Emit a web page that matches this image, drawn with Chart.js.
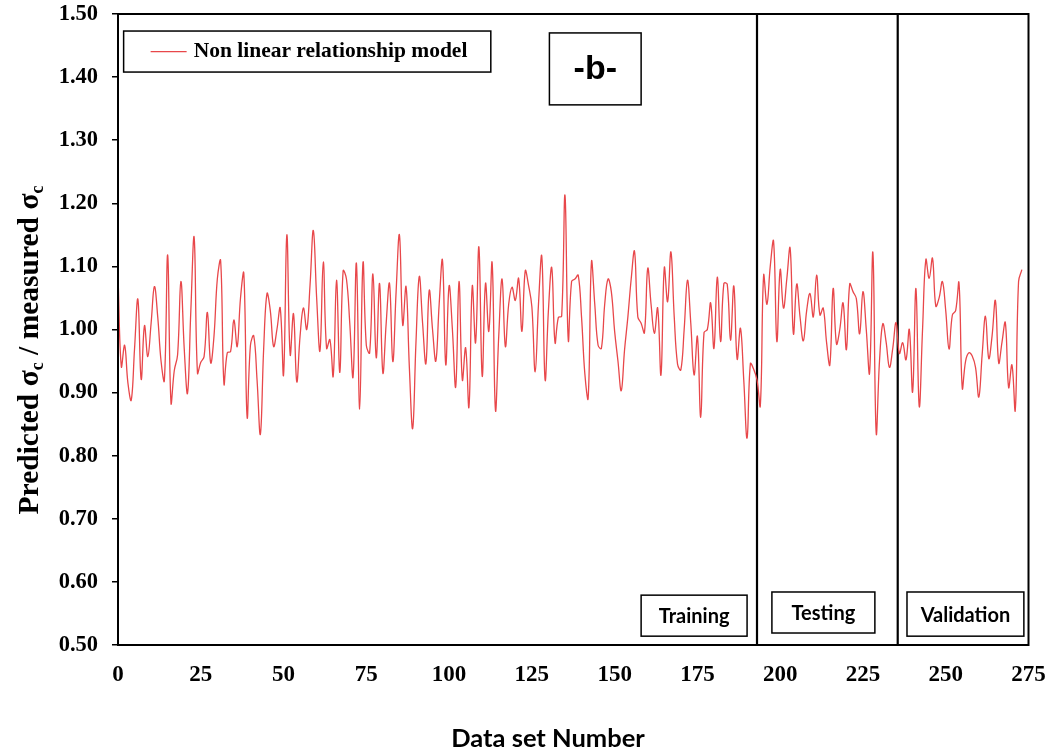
<!DOCTYPE html>
<html>
<head>
<meta charset="utf-8">
<script src="https://cdn.jsdelivr.net/npm/chart.js@4.4.1/dist/chart.umd.min.js"></script>
<style>
  html, body { margin: 0; padding: 0; background: #fff; }
  #wrap { width: 1052px; height: 754px; }
</style>
</head>
<body>
<div id="wrap"><canvas id="chart" width="1052" height="754"></canvas></div>
<script>
// predicted / measured ratio, one value per data set number (0..273)
const ratio = [
  1.086, 0.941, 0.975, 0.915, 0.888, 0.970, 1.048, 0.921, 1.006, 0.957,
  1.010, 1.068, 1.020, 0.950, 0.919, 1.118, 0.884, 0.935, 0.960, 1.076,
  0.970, 0.899, 1.030, 1.146, 0.931, 0.948, 0.957, 1.027, 0.947, 0.990,
  1.080, 1.109, 0.914, 0.963, 0.965, 1.015, 0.973, 1.050, 1.089, 0.861,
  0.975, 0.990, 0.920, 0.834, 0.970, 1.057, 1.030, 0.973, 1.000, 1.034,
  0.928, 1.150, 0.960, 1.025, 0.917, 0.990, 1.034, 1.000, 1.070, 1.157,
  1.050, 0.966, 1.107, 0.970, 0.984, 0.926, 1.078, 0.932, 1.093, 1.080,
  1.010, 0.925, 1.105, 0.874, 1.106, 0.975, 0.963, 1.088, 0.955, 1.073,
  0.931, 1.010, 1.073, 0.949, 1.060, 1.150, 1.007, 1.068, 0.940, 0.843,
  0.980, 1.084, 1.010, 0.946, 1.062, 1.000, 0.950, 1.040, 1.110, 0.944,
  1.069, 1.000, 0.909, 1.076, 0.920, 0.971, 0.877, 1.069, 0.979, 1.131,
  0.926, 1.073, 0.997, 1.106, 0.872, 0.990, 1.080, 0.973, 1.040, 1.067,
  1.046, 1.081, 0.997, 1.093, 1.070, 1.036, 0.933, 1.040, 1.116, 0.920,
  1.030, 1.098, 0.979, 1.019, 1.021, 1.213, 0.983, 1.076, 1.080, 1.086,
  1.020, 0.930, 0.891, 1.107, 1.040, 0.975, 0.970, 1.040, 1.080, 1.060,
  0.997, 0.950, 0.903, 0.968, 1.020, 1.080, 1.124, 1.020, 1.010, 0.995,
  1.097, 1.040, 0.994, 1.034, 0.928, 1.098, 1.044, 1.123, 1.020, 0.945,
  0.936, 1.000, 1.078, 1.010, 0.928, 0.989, 0.861, 0.995, 1.000, 1.042,
  0.970, 1.083, 0.981, 1.073, 1.072, 0.983, 1.069, 0.953, 1.002, 0.920,
  0.828, 0.946, 0.937, 0.920, 0.879, 1.086, 1.040, 1.100, 1.140, 0.981,
  1.095, 1.034, 1.080, 1.129, 0.993, 1.072, 1.020, 0.982, 1.030, 1.057,
  1.020, 1.086, 1.023, 1.034, 0.980, 0.944, 1.065, 0.977, 1.000, 1.042,
  0.968, 1.072, 1.060, 1.049, 0.993, 1.060, 1.000, 0.931, 1.122, 0.836,
  0.950, 1.009, 0.980, 0.940, 0.970, 1.011, 0.962, 0.979, 0.952, 1.000,
  0.901, 1.065, 0.878, 1.000, 1.111, 1.081, 1.113, 1.037, 1.050, 1.076,
  1.030, 0.969, 1.023, 1.030, 1.074, 0.907, 0.950, 0.963, 0.958, 0.940,
  0.893, 0.960, 1.021, 0.954, 0.990, 1.046, 0.947, 0.980, 1.011, 0.908,
  0.944, 0.872, 1.076, 1.095
];
const xTicks = [0, 25, 50, 75, 100, 125, 150, 175, 200, 225, 250, 275];
const yTicks = [0.5, 0.6, 0.7, 0.8, 0.9, 1.0, 1.1, 1.2, 1.3, 1.4, 1.5];
const splitAt = [193, 235.5];            // training | testing | validation
const phaseNames = ['Training', 'Testing', 'Validation'];
const seriesName = 'Non linear relationship model';
const panelName = '-b-';

// text boxes, in data units of the axes
const boxes = {
  legend: { x0: 1.7, x1: 112.6, y0: 1.473, y1: 1.408 },
  panel: { x0: 130.3, x1: 158, y0: 1.470, y1: 1.356 },
  phases: [
    { x0: 158, x1: 190, y0: 0.579, y1: 0.514 },
    { x0: 197.5, x1: 228.6, y0: 0.584, y1: 0.519 },
    { x0: 238.3, x1: 273.6, y0: 0.584, y1: 0.514 }
  ]
};

const serif = '"Liberation Serif", "Times New Roman", serif';
const sans = 'Lato, "Open Sans", sans-serif';
const red = '#e8474a';

const points = ratio.map((v, i) => ({ x: i, y: v }));
const splitSets = splitAt.map(x => ({
  label: 'split',
  data: [{ x: x, y: yTicks[0] }, { x: x, y: yTicks[yTicks.length - 1] }],
  borderColor: '#000',
  borderWidth: 2.2,
  pointRadius: 0,
  tension: 0
}));

function rectOf(chart, b) {
  const xs = chart.scales.x, ys = chart.scales.y;
  const l = xs.getPixelForValue(b.x0), r = xs.getPixelForValue(b.x1);
  const t = ys.getPixelForValue(b.y0), btm = ys.getPixelForValue(b.y1);
  return { l: l, t: t, w: r - l, h: btm - t };
}

const decorations = {
  id: 'decorations',
  afterDatasetsDraw(chart) {
    const ctx = chart.ctx;
    const a = chart.chartArea;
    ctx.save();
    ctx.strokeStyle = '#000';
    ctx.lineWidth = 2;
    ctx.strokeRect(a.left, a.top, a.right - a.left, a.bottom - a.top);

    // legend
    let r = rectOf(chart, boxes.legend);
    ctx.fillStyle = '#fff';
    ctx.fillRect(r.l, r.t, r.w, r.h);
    ctx.lineWidth = 1.5;
    ctx.strokeRect(r.l, r.t, r.w, r.h);
    const my = r.t + r.h / 2;
    ctx.strokeStyle = red;
    ctx.lineWidth = 1.3;
    ctx.beginPath();
    ctx.moveTo(r.l + 27, my);
    ctx.lineTo(r.l + 63, my);
    ctx.stroke();
    ctx.fillStyle = '#000';
    ctx.font = 'bold 21.5px ' + serif;
    ctx.textBaseline = 'middle';
    ctx.textAlign = 'left';
    ctx.fillText(seriesName, r.l + 70, my);

    // panel letter
    r = rectOf(chart, boxes.panel);
    ctx.strokeStyle = '#000';
    ctx.lineWidth = 1.5;
    ctx.fillStyle = '#fff';
    ctx.fillRect(r.l, r.t, r.w, r.h);
    ctx.strokeRect(r.l, r.t, r.w, r.h);
    ctx.fillStyle = '#000';
    ctx.font = 'bold 34px "Liberation Sans", Arial, sans-serif';
    ctx.textAlign = 'center';
    ctx.fillText(panelName, r.l + r.w / 2, r.t + r.h / 2 + 1);

    // phase boxes
    ctx.font = 'bold 20px ' + sans;
    boxes.phases.forEach((b, i) => {
      const q = rectOf(chart, b);
      ctx.fillStyle = '#fff';
      ctx.fillRect(q.l, q.t, q.w, q.h);
      ctx.strokeRect(q.l, q.t, q.w, q.h);
      ctx.fillStyle = '#000';
      ctx.fillText(phaseNames[i], q.l + q.w / 2, q.t + q.h / 2 + 1);
    });
    ctx.restore();
  },
  afterDraw(chart) {
    const ctx = chart.ctx;
    // y title with subscripts
    const parts = [
      ['Predicted \u03c3', false], ['c', true],
      [' / measured \u03c3', false], ['c', true]
    ];
    const big = 'bold 29.5px ' + serif, small = 'bold 18px ' + serif;
    ctx.save();
    let total = 0;
    parts.forEach(p => { ctx.font = p[1] ? small : big; total += ctx.measureText(p[0]).width; });
    ctx.translate(30, 350);
    ctx.rotate(-Math.PI / 2);
    ctx.fillStyle = '#000';
    ctx.textBaseline = 'alphabetic';
    ctx.textAlign = 'left';
    let x = -total / 2;
    parts.forEach(p => {
      ctx.font = p[1] ? small : big;
      ctx.fillText(p[0], x, p[1] ? 13 : 8);
      x += ctx.measureText(p[0]).width;
    });
    ctx.restore();

    // x title
    ctx.save();
    ctx.fillStyle = '#000';
    ctx.font = 'bold 25.5px ' + sans;
    ctx.textAlign = 'center';
    ctx.textBaseline = 'middle';
    ctx.fillText('Data set Number', 548, 739);
    ctx.restore();
  }
};

new Chart(document.getElementById('chart'), {
  type: 'line',
  data: {
    datasets: [{
      label: seriesName,
      data: points,
      borderColor: red,
      borderWidth: 1.3,
      pointRadius: 0,
      tension: 0.4,
      fill: false
    }].concat(splitSets)
  },
  options: {
    responsive: false,
    animation: false,
    parsing: false,
    layout: { padding: { left: 0, top: 14, right: 23.5, bottom: 0 } },
    plugins: { legend: { display: false }, tooltip: { enabled: false } },
    scales: {
      x: {
        type: 'linear',
        min: xTicks[0],
        max: xTicks[xTicks.length - 1],
        afterBuildTicks: s => { s.ticks = xTicks.map(v => ({ value: v })); },
        afterFit: s => { s.height = 109; s.paddingLeft = 0; s.paddingRight = 0; },
        grid: { display: false },
        border: { display: true, color: '#000', width: 2 },
        ticks: {
          color: '#000',
          padding: 8,
          maxRotation: 0,
          font: { family: serif, size: 23, weight: 'bold' }
        }
      },
      y: {
        type: 'linear',
        min: yTicks[0],
        max: yTicks[yTicks.length - 1],
        afterBuildTicks: s => { s.ticks = yTicks.map(v => ({ value: v })); },
        afterFit: s => { s.width = 118; s.paddingTop = 0; s.paddingBottom = 0; },
        grid: { drawOnChartArea: false, drawTicks: true, tickLength: 6, color: '#000', lineWidth: 1.5 },
        border: { display: true, color: '#000', width: 2 },
        ticks: {
          color: '#000',
          padding: 14,
          callback: v => v.toFixed(2),
          font: { family: serif, size: 22.5, weight: 'bold' }
        }
      }
    }
  },
  plugins: [decorations]
});
</script>
</body>
</html>
